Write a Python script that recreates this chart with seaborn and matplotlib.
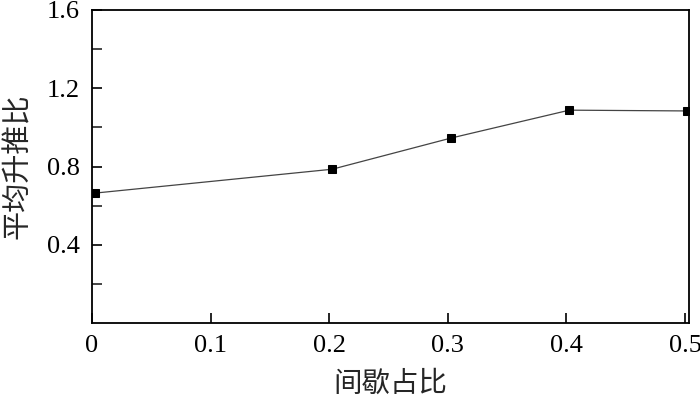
import matplotlib
matplotlib.use("Agg")
import matplotlib.pyplot as plt
import seaborn as sns
import pandas as pd
from matplotlib.ticker import FixedLocator

duty = [0.0025, 0.2025, 0.3025, 0.4025, 0.5015]
lift_thrust = [0.664, 0.786, 0.945, 1.088, 1.084]
xticks = [0, 0.1, 0.2, 0.3, 0.4, 0.5]
xticklabels = ["0", "0.1", "0.2", "0.3", "0.4", "0.5"]
yticks = [0.4, 0.8, 1.2, 1.6]
yticklabels = ["0.4", "0.8", "1.2", "1.6"]
yminor = [0.2, 0.6, 1.0, 1.4]

sns.set_theme(style="ticks")
plt.rcParams['font.family'] = ['Liberation Serif', 'Noto Sans CJK SC', 'DejaVu Sans']

df = pd.DataFrame({"x": duty, "y": lift_thrust})

fig = plt.figure(figsize=(7, 3.99), dpi=100)
ax = fig.add_axes([92/700, 1 - 323/399, (689-92)/700, (323-10)/399])
sns.lineplot(data=df, x="x", y="y", ax=ax, color="#444444", linewidth=0.9,
             marker="s", markersize=6, markerfacecolor="black",
             markeredgecolor="black")

ax.set_xlim(0, 0.5034)
ax.set_ylim(0, 1.6)
ax.xaxis.set_major_locator(FixedLocator(xticks))
ax.set_xticklabels(xticklabels)
ax.yaxis.set_major_locator(FixedLocator(yticks))
ax.set_yticklabels(yticklabels)
ax.yaxis.set_minor_locator(FixedLocator(yminor))

for s in ax.spines.values():
    s.set_visible(True)
    s.set_linewidth(1.3)
    s.set_color("black")

ax.tick_params(axis="both", which="major", direction="in", length=7, width=1.2,
               labelsize=19, colors="black", pad=9)
ax.tick_params(axis="y", which="minor", direction="in", length=7, width=1.2)
ax.tick_params(axis="x", which="major", pad=9)

ax.set_xlabel("间歇占比", family=['Noto Sans CJK SC'], fontsize=20.5, labelpad=8)
ax.set_ylabel("平均升推比", family=['Noto Sans CJK SC'], fontsize=21, labelpad=10)

fig.savefig("out.png", dpi=100)
